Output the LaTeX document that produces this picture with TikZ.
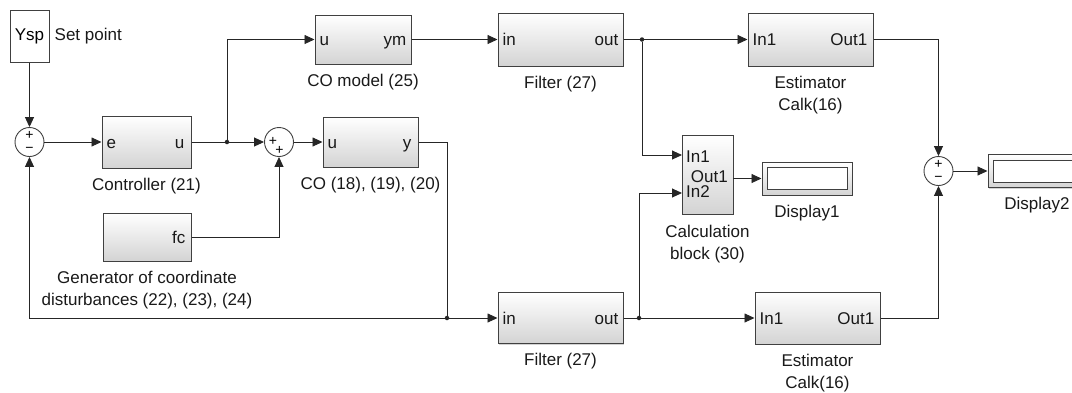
\documentclass[tikz,border=0pt]{standalone}
\usepackage{fontspec}
\setmainfont{Liberation Sans}
\usetikzlibrary{arrows.meta,positioning,shadows}

\begin{document}
\begin{tikzpicture}[x=1pt,y=-1pt,
  font=\fontsize{17}{22}\selectfont,
  wire/.style={draw=black!85,line width=0.9pt},
  sig/.style={wire,-{Triangle[length=10pt,width=9pt]}},
  blok/.style={draw=black!75,line width=1pt,top color=white,bottom color=black!17,
    drop shadow={shadow xshift=1.2pt,shadow yshift=-1.2pt,opacity=0.35},inner sep=0pt},
  port/.style={inner sep=0pt,text=black!90,text height=12pt,text depth=0pt},
  lbl/.style={inner sep=0pt,align=center,text=black!90},
  summ/.style={draw=black!75,line width=0.9pt,circle,minimum size=29pt,inner sep=0pt,fill=white},
  sign/.style={inner sep=0pt,font=\fontsize{14}{14}\selectfont},
  dot/.style={circle,fill=black!85,inner sep=0pt,minimum size=4.5pt}]
\useasboundingbox (0,0) rectangle (1072,392);
\newcommand\dispblok[4]{
\node[blok,minimum width=#4pt,minimum height=33pt] (#1) at (#2,#3) {};
\node[draw=black!75,line width=0.9pt,fill=white,minimum width=#4pt-10pt,minimum height=22pt,inner sep=0pt] (#1in) at (#2,#3) {};
}
% set point and left summing junction
\node[draw=black!75,line width=1pt,fill=white,minimum width=39pt,minimum height=52pt,inner sep=0pt,
  drop shadow={shadow xshift=1.2pt,shadow yshift=-1.2pt,opacity=0.35}] (ysp) at (29.5,36) {Ysp};
\node[lbl,right=5pt of ysp] (setpt) {Set point};
\node[summ] (s1) at (29.5,142) {};
\node[sign] (s1p) at (29.5,135.5) {+};
\node[sign] (s1m) at (29.5,150) {−};
% controller
\node[blok,minimum width=89pt,minimum height=52pt] (ctrl) at (146.5,142) {};
\node[port,anchor=west] (ctrle) at ([xshift=5pt]ctrl.west) {e};
\node[port,anchor=east] (ctrlu) at ([xshift=-7pt]ctrl.east) {u};
\node[lbl,below=9pt of ctrl] (ctrllbl) {Controller (21)};
% disturbance generator
\node[blok,minimum width=88pt,minimum height=48pt] (gen) at (147,237) {};
\node[port,anchor=east] (genfc) at ([xshift=-6pt]gen.east) {fc};
\node[lbl,below=9pt of gen] (genlbl) {Generator of coordinate\\disturbances (22), (23), (24)};
% second summing junction
\node[summ] (s2) at (279,142) {};
\node[sign] (s2a) at (273,141) {+};
\node[sign] (s2b) at (279.5,150) {+};
% CO model and CO
\node[blok,minimum width=96pt,minimum height=49pt] (model) at (363,39.5) {};
\node[port,anchor=west] (modelu) at ([xshift=5pt]model.west) {u};
\node[port,anchor=east] (modely) at ([xshift=-5pt]model.east) {ym};
\node[lbl,below=9pt of model] (modellbl) {CO model (25)};
\node[blok,minimum width=95pt,minimum height=50pt] (co) at (370.5,142) {};
\node[port,anchor=west] (cou) at ([xshift=5pt]co.west) {u};
\node[port,anchor=east] (coy) at ([xshift=-7pt]co.east) {y};
\node[lbl,below=9pt of co] (colbl) {CO (18), (19), (20)};
% filters
\node[blok,minimum width=125pt,minimum height=53pt] (filt1) at (560.5,39.5) {};
\node[port,anchor=west] (filt1in) at ([xshift=5pt]filt1.west) {in};
\node[port,anchor=east] (filt1out) at ([xshift=-5pt]filt1.east) {out};
\node[lbl,below=9pt of filt1] (filt1lbl) {Filter (27)};
\node[blok,minimum width=125pt,minimum height=51pt] (filt2) at (560.5,318) {};
\node[port,anchor=west] (filt2in) at ([xshift=5pt]filt2.west) {in};
\node[port,anchor=east] (filt2out) at ([xshift=-5pt]filt2.east) {out};
\node[lbl,below=9pt of filt2] (filt2lbl) {Filter (27)};
% estimators
\node[blok,minimum width=125pt,minimum height=53pt] (est1) at (810.5,39.5) {};
\node[port,anchor=west] (est1in) at ([xshift=5pt]est1.west) {In1};
\node[port,anchor=east] (est1out) at ([xshift=-6pt]est1.east) {Out1};
\node[lbl,below=9pt of est1] (est1lbl) {Estimator\\Calk(16)};
\node[blok,minimum width=125pt,minimum height=52pt] (est2) at (817.5,318) {};
\node[port,anchor=west] (est2in) at ([xshift=5pt]est2.west) {In1};
\node[port,anchor=east] (est2out) at ([xshift=-6pt]est2.east) {Out1};
\node[lbl,below=9pt of est2] (est2lbl) {Estimator\\Calk(16)};
% calculation block and displays
\node[blok,minimum width=51pt,minimum height=79pt] (calc) at (707.5,174.5) {};
\coordinate (cin1) at (682,155);
\coordinate (cin2) at (682,193);
\coordinate (cout) at (733,178.5);
\node[port,anchor=west] (calcin1) at (686,156) {In1};
\node[port,anchor=west] (calcin2) at (686,191) {In2};
\node[port,anchor=east] (calcout) at (728,176) {Out1};
\node[lbl,below=10pt of calc] (calclbl) {Calculation\\block (30)};
\dispblok{disp1}{807}{178.5}{90}
\node[lbl,below=9pt of disp1] (disp1lbl) {Display1};
\node[summ] (s3) at (938.5,171) {};
\node[sign] (s3p) at (938.5,164.5) {+};
\node[sign] (s3m) at (938.5,179) {−};
\dispblok{disp2}{1037}{171}{98}
\node[lbl,below=9pt of disp2] (disp2lbl) {Display2};
% connections
\node[dot] (j1) at (227,142) {};
\node[dot] (j2) at (447,318) {};
\node[dot] (j3) at (642,39.5) {};
\node[dot] (j4) at (639,318) {};
\path[sig] (ysp.south) -- (s1.north);
\path[sig] (s1.east) -- (ctrl.west);
\path[wire] (ctrl.east) -- (j1);
\path[sig] (j1) -- (s2.west);
\path[sig] (j1) |- (model.west);
\path[sig] (gen.east) -| (s2.south);
\path[sig] (s2.east) -- (co.west);
\path[wire] (co.east) -| (j2);
\path[sig] (j2) -- (filt2.west);
\path[sig] (j2) -| (s1.south);
\path[sig] (model.east) -- (filt1.west);
\path[wire] (filt1.east) -- (j3);
\path[sig] (j3) -- (est1.west);
\path[sig] (j3) |- (cin1);
\path[wire] (filt2.east) -- (j4);
\path[sig] (j4) -- (est2.west);
\path[sig] (j4) |- (cin2);
\path[sig] (cout) -- (disp1.west);
\path[sig] (est1.east) -| (s3.north);
\path[sig] (est2.east) -| (s3.south);
\path[sig] (s3.east) -- (disp2.west);
\end{tikzpicture}
\end{document}
